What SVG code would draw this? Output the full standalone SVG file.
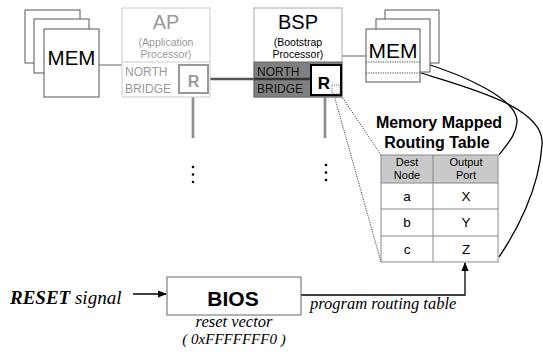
<svg xmlns="http://www.w3.org/2000/svg" width="543" height="352" viewBox="0 0 543 352">
<defs>
<style>
.sans{font-family:"Liberation Sans",Arial,sans-serif}
.serif{font-family:"Liberation Serif","Times New Roman",serif;font-style:italic}
.mem{fill:#fff;stroke:#555;stroke-width:1}
.conn{fill:none;stroke:#000;stroke-width:1.3}
.dot{fill:none;stroke:#444;stroke-width:1;stroke-dasharray:1.2 1.2}
.bus{fill:none;stroke:#777;stroke-width:2.6}
.busc{fill:none;stroke:#bbb;stroke-width:0.7}
.cell{fill:none;stroke:#888;stroke-width:1}
</style>
<marker id="ah" viewBox="0 0 10 10" refX="9" refY="5" markerWidth="7" markerHeight="7" orient="auto">
<path d="M0,1 L10,5 L0,9 z" fill="#000"/>
</marker>
</defs>
<rect width="543" height="352" fill="#fff"/>

<g id="connectors">
<line x1="99" y1="65" x2="122" y2="65" stroke="#666" stroke-width="1"/>
<line x1="342" y1="56" x2="366" y2="56" stroke="#666" stroke-width="1"/>
<line x1="208" y1="79" x2="311" y2="79" stroke="#555" stroke-width="2.6"/>
<line class="bus" x1="193" y1="93" x2="193" y2="138"/>
<line class="busc" x1="193" y1="93" x2="193" y2="138"/>
<line class="bus" x1="325" y1="95" x2="325" y2="138"/>
<line class="busc" x1="325" y1="95" x2="325" y2="138"/>
<line class="dot" x1="334" y1="95" x2="381" y2="262"/>
<line class="dot" x1="340" y1="94" x2="381" y2="155"/>
<path class="conn" d="M421,62 C460,74 518,98 517,122 C516,136 506,145 499,155"/>
<path class="conn" d="M421,73 C470,88 546,108 542,145 C539,190 516,232 499,257"/>
<line class="conn" x1="133" y1="294" x2="166" y2="294" marker-end="url(#ah)"/>
<path class="conn" d="M301,295 L465,295 L465,263" marker-end="url(#ah)" stroke-width="1.6"/>
</g>

<g id="mem-left">
<rect class="mem" x="25" y="10" width="55" height="53"/>
<rect class="mem" x="34" y="19" width="55" height="54"/>
<rect class="mem" x="44" y="29" width="55" height="68"/>
<text class="sans" x="71.5" y="65" font-size="20.5" text-anchor="middle">MEM</text>
</g>

<g id="ap">
<rect x="122" y="8" width="88" height="89" fill="#fff" stroke="#ccc" stroke-width="1"/>
<line x1="122" y1="62" x2="210" y2="62" stroke="#ccc"/>
<text class="sans" x="166" y="29" font-size="20" fill="#999" text-anchor="middle">AP</text>
<text class="sans" x="166" y="46" font-size="10.5" fill="#999" text-anchor="middle">(Application</text>
<text class="sans" x="166" y="58" font-size="10.5" fill="#999" text-anchor="middle">Processor)</text>
<text class="sans" x="125" y="76" font-size="12" fill="#999">NORTH</text>
<text class="sans" x="125" y="93" font-size="12" fill="#999">BRIDGE</text>
<rect x="179" y="65" width="29" height="28" fill="#fff" stroke="#999" stroke-width="2"/>
<text class="sans" x="193.5" y="87" font-size="16" font-weight="bold" fill="#999" text-anchor="middle">R</text>
</g>

<g id="bsp">
<rect x="254" y="8" width="88" height="89" fill="#fff" stroke="#aaa" stroke-width="1"/>
<rect x="254" y="62" width="88" height="35" fill="#808080" stroke="#666" stroke-width="1"/>
<line x1="254" y1="79" x2="311" y2="79" stroke="#333" stroke-width="2.6"/>
<text class="sans" x="298" y="29" font-size="20" text-anchor="middle">BSP</text>
<text class="sans" x="298" y="46" font-size="10.5" text-anchor="middle">(Bootstrap</text>
<text class="sans" x="298" y="58" font-size="10.5" text-anchor="middle">Processor)</text>
<text class="sans" x="257" y="76" font-size="12" fill="#111">NORTH</text>
<text class="sans" x="257" y="93" font-size="12" fill="#111">BRIDGE</text>
<rect x="311" y="65" width="30" height="30" fill="#fff" stroke="#000" stroke-width="2"/>
<text class="sans" x="324" y="89" font-size="17" font-weight="bold" text-anchor="middle">R</text>
<rect x="332" y="85" width="8" height="9" fill="#fff" stroke="#555" stroke-width="0.8" stroke-dasharray="1 1"/>
</g>

<g id="mem-right">
<rect class="mem" x="385" y="10" width="54" height="53"/>
<rect class="mem" x="376" y="19" width="54" height="53"/>
<rect class="mem" x="366" y="29" width="54" height="53"/>
<text class="sans" x="393" y="58" font-size="21" text-anchor="middle">MEM</text>
<line class="dot" x1="366" y1="62" x2="420" y2="62"/>
<line class="dot" x1="366" y1="73" x2="420" y2="73"/>
</g>

<g id="dots-ap" fill="#000">
<circle cx="193" cy="167" r="1.3"/>
<circle cx="193" cy="174.5" r="1.3"/>
<circle cx="193" cy="182" r="1.3"/>
</g>
<g id="dots-bsp" fill="#000">
<circle cx="326" cy="165" r="1.3"/>
<circle cx="326" cy="172.5" r="1.3"/>
<circle cx="326" cy="180" r="1.3"/>
</g>

<g id="routing-table">
<text class="sans" x="439" y="128" font-size="16" font-weight="bold" text-anchor="middle">Memory Mapped</text>
<text class="sans" x="437" y="148" font-size="16" font-weight="bold" text-anchor="middle">Routing Table</text>
<rect x="381" y="155" width="117" height="28" fill="#c9c9c9"/>
<rect class="cell" x="381" y="155" width="117" height="107"/>
<line class="cell" x1="433" y1="155" x2="433" y2="262"/>
<line class="cell" x1="381" y1="183" x2="498" y2="183"/>
<line class="cell" x1="381" y1="209" x2="498" y2="209"/>
<line class="cell" x1="381" y1="236" x2="498" y2="236"/>
<text class="sans" x="407" y="166" font-size="11" text-anchor="middle">Dest</text>
<text class="sans" x="407" y="179" font-size="11" text-anchor="middle">Node</text>
<text class="sans" x="466" y="166" font-size="11" text-anchor="middle">Output</text>
<text class="sans" x="466" y="179" font-size="11" text-anchor="middle">Port</text>
<text class="sans" x="407" y="201" font-size="13.5" text-anchor="middle">a</text>
<text class="sans" x="466" y="201" font-size="13.5" text-anchor="middle">X</text>
<text class="sans" x="407" y="227" font-size="13.5" text-anchor="middle">b</text>
<text class="sans" x="466" y="227" font-size="13.5" text-anchor="middle">Y</text>
<text class="sans" x="407" y="254" font-size="13.5" text-anchor="middle">c</text>
<text class="sans" x="466" y="254" font-size="13.5" text-anchor="middle">Z</text>
</g>

<g id="reset">
<text class="serif" x="10" y="304" font-size="19"><tspan font-weight="bold">RESET</tspan> signal</text>
</g>

<g id="bios">
<rect x="167" y="277" width="134" height="38" fill="#fff" stroke="#666" stroke-width="1"/>
<text class="sans" x="233" y="306" font-size="21" font-weight="bold" text-anchor="middle">BIOS</text>
<text class="serif" x="234" y="327" font-size="16.5" text-anchor="middle">reset vector</text>
<text class="serif" x="234" y="344" font-size="15" text-anchor="middle">( 0xFFFFFFF0 )</text>
</g>

<g id="label-program">
<text class="serif" x="310" y="309" font-size="16.5">program routing table</text>
</g>
</svg>
